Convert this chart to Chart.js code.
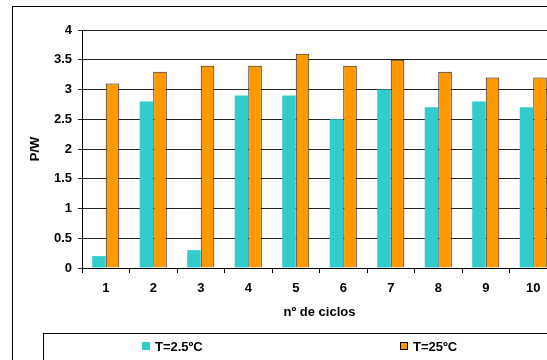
<!DOCTYPE html>
<html>
<head>
<meta charset="utf-8">
<script src="https://cdn.jsdelivr.net/npm/chart.js@4"></script>
<style>
  html, body { margin: 0; padding: 0; background: #fff; overflow: hidden; }
  #wrap { position: absolute; left: 0; top: 0; width: 600px; height: 380px; }
</style>
</head>
<body>
<div id="wrap"><canvas id="myChart" width="600" height="380"></canvas></div>
<script>
// data
const ciclos = ["1", "2", "3", "4", "5", "6", "7", "8", "9", "10"];
const pw_2_5 = [0.2, 2.8, 0.3, 2.9, 2.9, 2.5, 3.0, 2.7, 2.8, 2.7];
const pw_25 = [3.1, 3.3, 3.4, 3.4, 3.6, 3.4, 3.5, 3.3, 3.2, 3.2];
const yTicks = [0, 0.5, 1, 1.5, 2, 2.5, 3, 3.5, 4];

const fontFam = "Arial, 'Liberation Sans', sans-serif";
const boldFont = { family: fontFam, size: 13, weight: "bold" };

// frame round the whole chart + boxed legend like the excel original
const framePlugin = {
  id: "frame",
  beforeDraw(chart) {
    const ctx = chart.ctx;
    ctx.save();
    ctx.fillStyle = "#fff";
    ctx.fillRect(0, 0, chart.width, chart.height);
    ctx.strokeStyle = "#000";
    ctx.lineWidth = 1;
    ctx.strokeRect(12.5, 6.5, 800, 600);
    ctx.restore();
  },
  afterDraw(chart) {
    const ctx = chart.ctx;
    const ds = chart.data.datasets;
    ctx.save();
    ctx.strokeStyle = "#000";
    ctx.lineWidth = 1;
    ctx.strokeRect(43.5, 333.5, 800, 60);
    ctx.font = "bold 13px " + fontFam;
    ctx.textBaseline = "middle";
    const items = [{ x: 142, ds: ds[0] }, { x: 400, ds: ds[1] }];
    items.forEach((it) => {
      ctx.fillStyle = it.ds.backgroundColor;
      ctx.fillRect(it.x, 342, 8, 8);
      if (it.ds.borderWidth) {
        ctx.strokeStyle = "#000";
        ctx.strokeRect(it.x + 0.5, 342.5, 7, 7);
      }
      ctx.fillStyle = "#000";
      ctx.fillText(it.ds.label, it.x + 13, 347);
    });
    ctx.restore();
  },
};

new Chart(document.getElementById("myChart"), {
  type: "bar",
  data: {
    labels: ciclos,
    datasets: [
      {
        label: "T=2.5ºC",
        data: pw_2_5,
        backgroundColor: "#33CCCC",
        borderWidth: 0,
      },
      {
        label: "T=25ºC",
        data: pw_25,
        backgroundColor: "#FF9900",
        borderColor: "#222",
        borderWidth: 1,
      },
    ],
  },
  plugins: [framePlugin],
  options: {
    responsive: false,
    animation: false,
    devicePixelRatio: 1,
    datasets: {
      bar: { categoryPercentage: 0.57, barPercentage: 1.0 },
    },
    layout: { padding: { left: 0, top: 30, right: 43, bottom: 0 } },
    plugins: {
      legend: { display: false },
      tooltip: { enabled: false },
    },
    scales: {
      x: {
        afterFit(scale) { scale.height = 112; },
        grid: {
          offset: true,
          drawOnChartArea: false,
          drawTicks: true,
          tickLength: 5,
          color: "#000",
        },
        border: { color: "#000", width: 1 },
        ticks: {
          color: "#000",
          padding: 8,
          font: boldFont,
        },
        title: {
          display: true,
          text: "nº de ciclos",
          color: "#000",
          font: boldFont,
          padding: { top: 0, bottom: 60 },
        },
      },
      y: {
        min: 0,
        max: 4,
        afterFit(scale) { scale.width = 82; },
        afterBuildTicks(scale) {
          scale.ticks = yTicks.map((v) => ({ value: v }));
        },
        grid: {
          color: "#222",
          tickLength: 4,
          drawTicks: true,
        },
        border: { color: "#000", width: 1 },
        ticks: {
          color: "#000",
          padding: 6,
          font: boldFont,
          callback: (v) => String(v),
        },
        title: {
          display: true,
          text: "P/W",
          color: "#000",
          font: boldFont,
          padding: { top: 28, bottom: 0 },
        },
      },
    },
  },
});
</script>
</body>
</html>
